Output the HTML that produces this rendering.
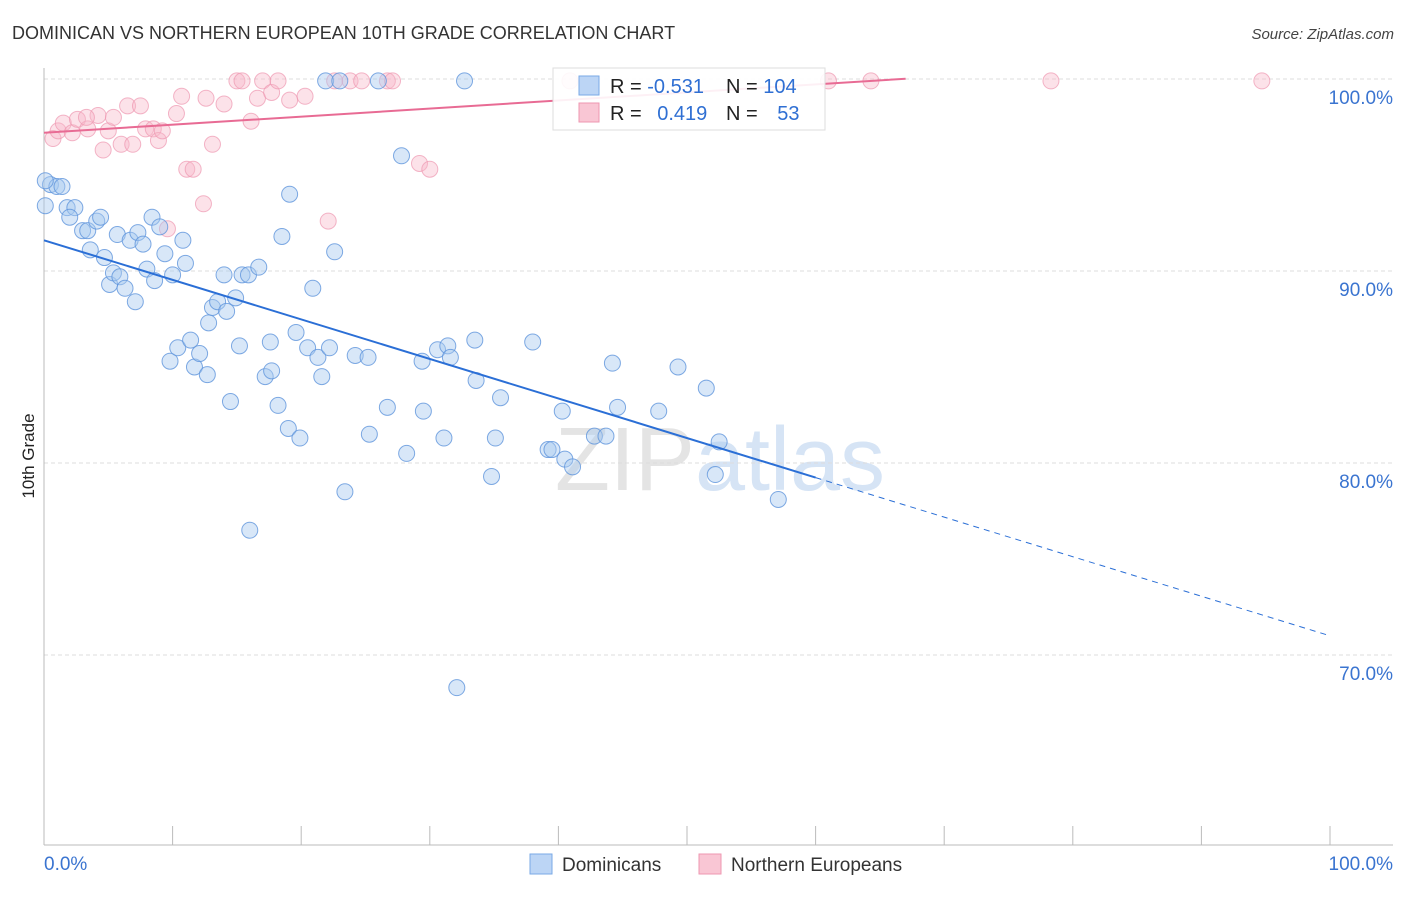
<!DOCTYPE html>
<html><head><meta charset="utf-8"><style>
body{margin:0;background:#fff;font-family:"Liberation Sans",sans-serif;}
svg text{font-family:"Liberation Sans",sans-serif;}
</style></head><body>
<svg id="chart" width="1406" height="892" xmlns="http://www.w3.org/2000/svg">
<text x="12" y="39" font-size="18" fill="#333">DOMINICAN VS NORTHERN EUROPEAN 10TH GRADE CORRELATION CHART</text>
<text x="1394" y="39" font-size="15" fill="#444" font-style="italic" text-anchor="end">Source: ZipAtlas.com</text>
<text x="34" y="456" font-size="17" fill="#222" transform="rotate(-90 34 456)" text-anchor="middle">10th Grade</text>
<text x="720" y="490" font-size="90" fill="#e4e4e4" text-anchor="middle" font-family="Liberation Serif">ZIP<tspan fill="#d6e4f5" font-family="Liberation Sans">atlas</tspan></text>
<g id="grid"></g><g id="pts"></g><g id="lines"></g>
<g>
<rect x="553" y="68" width="272" height="62" fill="#fff" fill-opacity="0.9" stroke="#ddd"/>
<rect x="579" y="76" width="20" height="19" fill="#bcd5f5" stroke="#7aa9e6"/>
<rect x="579" y="103" width="20" height="19" fill="#f9c6d4" stroke="#ee97b1"/>
<text x="610" y="93" font-size="20" fill="#222">R = <tspan fill="#2f6fd3">-0.531</tspan></text>
<text x="726" y="93" font-size="20" fill="#222">N = <tspan fill="#2f6fd3">104</tspan></text>
<text x="610" y="120" font-size="20" fill="#222">R = <tspan fill="#2f6fd3" dx="10">0.419</tspan></text>
<text x="726" y="120" font-size="20" fill="#222">N = <tspan fill="#2f6fd3" dx="14">53</tspan></text>
</g>
<g>
<rect x="530" y="854" width="22" height="20" fill="#bcd5f5" stroke="#7aa9e6"/>
<text x="562" y="871" font-size="19" fill="#333">Dominicans</text>
<rect x="699" y="854" width="22" height="20" fill="#f9c6d4" stroke="#ee97b1"/>
<text x="731" y="871" font-size="19" fill="#333">Northern Europeans</text>
</g>
<text x="44" y="870" font-size="19" fill="#3a74d0">0.0%</text>
<text x="1393" y="870" font-size="19" fill="#3a74d0" text-anchor="end">100.0%</text>
</svg>
<script>
const yTicks=[100,90,80,70];
const yTickLabels=["100.0%","90.0%","80.0%","70.0%"];
const xTicks=[0,10,20,30,40,50,60,70,80,90,100];
const blueX=[0.5,1.0,1.4,0.1,1.8,2.4,2.0,3.0,3.4,4.1,4.4,3.6,4.7,5.1,5.4,5.9,6.3,5.7,6.7,7.3,7.7,7.1,8.0,8.4,8.6,9.0,9.4,10.0,10.8,11.0,9.8,10.4,11.4,11.7,12.1,12.7,12.8,13.1,13.5,14.2,14.0,14.9,15.4,15.9,16.7,14.5,15.2,17.2,17.7,17.6,18.2,18.5,19.1,19.0,19.6,19.9,20.5,20.9,21.3,21.6,22.2,22.6,21.9,23.0,23.4,24.2,25.2,25.3,26.0,26.7,27.8,28.2,29.4,29.5,30.6,31.1,31.4,31.6,32.1,32.7,33.6,33.5,34.8,35.1,35.5,38.0,39.2,39.5,40.3,40.5,41.1,42.8,43.7,44.2,44.6,47.8,49.3,51.5,52.2,52.5,57.1,16.0,0.1];
const blueY=[94.5,94.4,94.4,93.4,93.3,93.3,92.8,92.1,92.1,92.6,92.8,91.1,90.7,89.3,89.9,89.7,89.1,91.9,91.6,92.0,91.4,88.4,90.1,92.8,89.5,92.3,90.9,89.8,91.6,90.4,85.3,86.0,86.4,85.0,85.7,84.6,87.3,88.1,88.4,87.9,89.8,88.6,89.8,89.8,90.2,83.2,86.1,84.5,84.8,86.3,83.0,91.8,94.0,81.8,86.8,81.3,86.0,89.1,85.5,84.5,86.0,91.0,99.9,99.9,78.5,85.6,85.5,81.5,99.9,82.9,96.0,80.5,85.3,82.7,85.9,81.3,86.1,85.5,68.3,99.9,84.3,86.4,79.3,81.3,83.4,86.3,80.7,80.7,82.7,80.2,79.8,81.4,81.4,85.2,82.9,82.7,85.0,83.9,79.4,81.1,78.1,76.5,94.7];
const pinkX=[0.7,1.1,1.5,2.2,2.6,3.4,4.2,4.6,5.0,5.4,6.0,6.5,6.9,7.5,7.9,8.5,8.9,9.2,9.6,10.3,10.7,11.1,11.6,12.4,12.6,13.1,14.0,15.0,15.4,16.1,16.6,17.0,17.7,18.2,19.1,20.3,22.1,22.6,23.8,24.7,26.7,27.1,29.2,30.0,40.9,61.0,64.3,78.3,94.7,3.3];
const pinkY=[96.9,97.3,97.7,97.2,97.9,97.4,98.1,96.3,97.3,98.0,96.6,98.6,96.6,98.6,97.4,97.4,96.8,97.3,92.2,98.2,99.1,95.3,95.3,93.5,99.0,96.6,98.7,99.9,99.9,97.8,99.0,99.9,99.3,99.9,98.9,99.1,92.6,99.9,99.9,99.9,99.9,99.9,95.6,95.3,99.9,99.9,99.9,99.9,99.9,98.0];
const blueTrend=[91.6,-0.206]; const blueSolidEnd=60;
const pinkTrend=[97.2,0.042]; const pinkEnd=67;

const NS="http://www.w3.org/2000/svg";
const X0=44,X1=1330,Y100=79,PXPER=19.2;
const sx=v=>X0+(X1-X0)*v/100;
const sy=v=>Y100+(100-v)*PXPER;
function mk(tag,attrs,parent){const e=document.createElementNS(NS,tag);for(const k in attrs)e.setAttribute(k,attrs[k]);parent.appendChild(e);return e;}
const grid=document.getElementById('grid');
yTicks.forEach((t,i)=>{
 const l=mk('line',{x1:44,x2:1393,y1:sy(t),y2:sy(t),stroke:'#ddd','stroke-dasharray':'4,3'},grid);
 
 
 const tx=mk('text',{x:1393,y:sy(t)+25,'font-size':19,fill:'#3a74d0','text-anchor':'end'},grid);
 tx.textContent=yTickLabels[i];
 
 
});
const ax=mk('line',{x1:44,x2:44,y1:68,y2:845,stroke:'#bbb'},grid);


const bx=mk('line',{x1:44,x2:1393,y1:845,y2:845,stroke:'#bbb'},grid);


xTicks.forEach(t=>{
 const l=mk('line',{x1:sx(t),x2:sx(t),y1:826,y2:845,stroke:'#bbb'},grid);
 
 
});
const pts=document.getElementById('pts');
pinkX.forEach((x,i)=>{
 const c=mk('circle',{cx:sx(x),cy:sy(pinkY[i]),r:8,fill:'#f7b6c9','fill-opacity':0.4,stroke:'#ee97b1','stroke-opacity':0.7},pts);
 
 
});
blueX.forEach((x,i)=>{
 const c=mk('circle',{cx:sx(x),cy:sy(blueY[i]),r:8,fill:'#a9c9f0','fill-opacity':0.45,stroke:'#5f95dc','stroke-opacity':0.8},pts);
 
 
});
const lines=document.getElementById('lines');
const bl=mk('line',{x1:sx(0),y1:sy(blueTrend[0]),x2:sx(blueSolidEnd),y2:sy(blueTrend[0]+blueTrend[1]*blueSolidEnd),stroke:'#2b6fd6','stroke-width':2},lines);


const bd=mk('line',{x1:sx(blueSolidEnd),y1:sy(blueTrend[0]+blueTrend[1]*blueSolidEnd),x2:sx(100),y2:sy(blueTrend[0]+blueTrend[1]*100),stroke:'#2b6fd6','stroke-width':1,'stroke-dasharray':'6,5'},lines);


const pl=mk('line',{x1:sx(0),y1:sy(pinkTrend[0]),x2:sx(pinkEnd),y2:sy(pinkTrend[0]+pinkTrend[1]*pinkEnd),stroke:'#e86b94','stroke-width':2},lines);


</script>
</body></html>
